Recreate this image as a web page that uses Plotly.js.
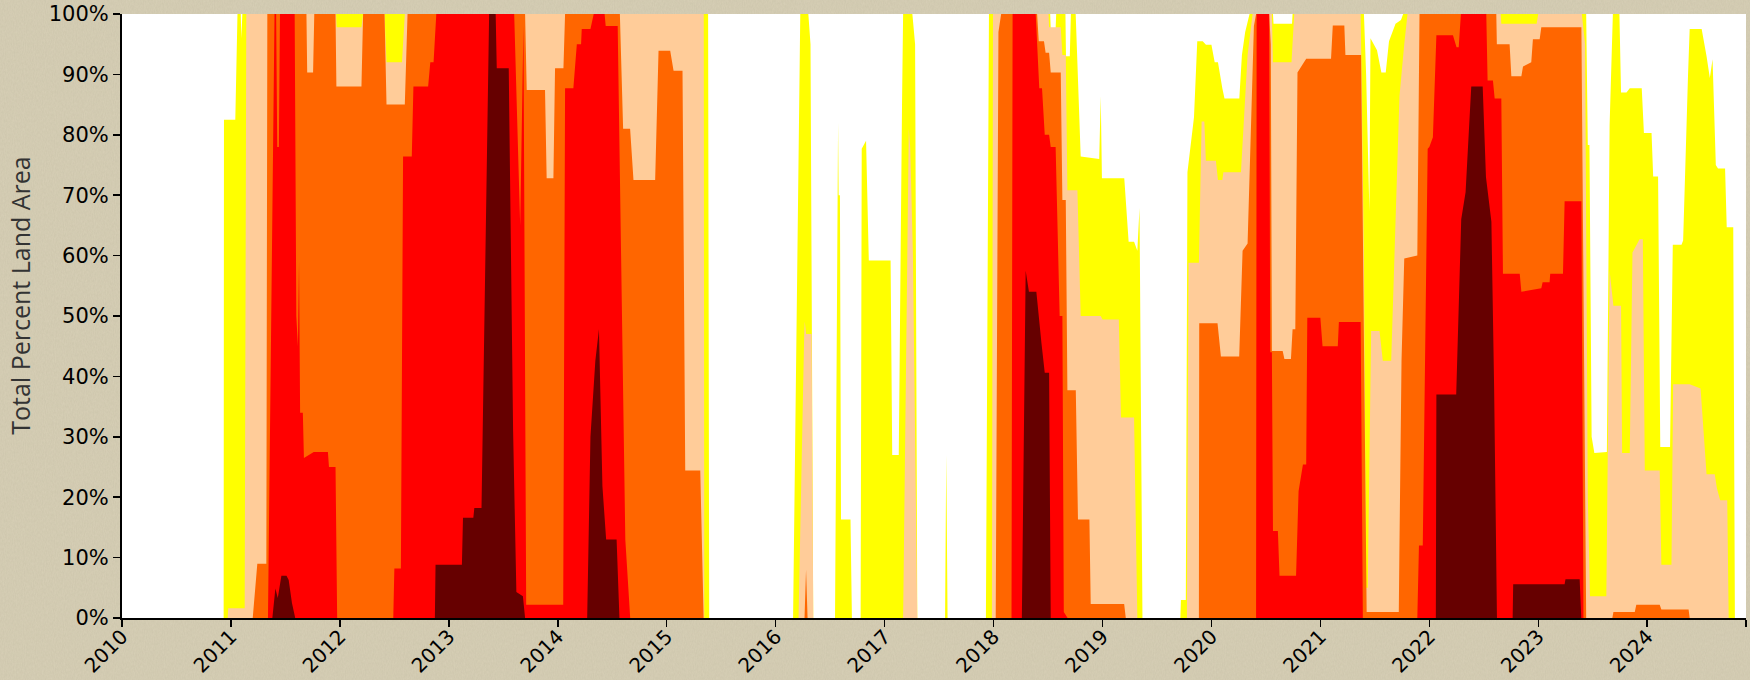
<!DOCTYPE html>
<html>
<head>
<meta charset="utf-8">
<script src="https://cdn.plot.ly/plotly-3.0.1.min.js"></script>
<style>
  html, body { margin: 0; padding: 0; }
  body {
    width: 1750px; height: 680px; overflow: hidden;
    background-color: #d7cfb6;
    background-image: url("data:image/svg+xml;utf8,<svg xmlns='http://www.w3.org/2000/svg' width='400' height='400'><filter id='n'><feTurbulence type='fractalNoise' baseFrequency='0.9 0.35' numOctaves='3' seed='4'/><feColorMatrix values='0 0 0 0 0.35  0 0 0 0 0.33  0 0 0 0 0.22  0 0 0 0.18 0'/></filter><rect width='100%' height='100%' filter='url(%23n)'/></svg>");
  }
  #chart { width: 1750px; height: 680px; }
</style>
</head>
<body>
<div id="chart"></div>
<script>
// Drought categories (cumulative percent of land area, "Dx or worse")
const categories = ['D0', 'D1', 'D2', 'D3', 'D4'];
const colors = ['#ffff00', '#ffcc99', '#ff6600', '#ff0000', '#660000'];

// [decimal year, percent]
const d0 = [
  [2010.933,0],[2010.936,82.5],[2011.04,82.5],[2011.06,100],[2011.09,100],[2011.095,96],[2011.105,100],[2011.165,100],[2011.172,95],[2011.18,100],[2015.38,100],[2015.39,0],
  [2016.16,0],[2016.226,100],[2016.30,100],[2016.32,95],[2016.345,0],
  [2016.545,0],[2016.573,82],[2016.578,70],[2016.59,70],[2016.60,16.3],[2016.687,16.3],[2016.70,0],
  [2016.78,0],[2016.79,77.7],[2016.83,79],[2016.855,59.2],[2017.055,59.2],[2017.07,27],[2017.13,27],[2017.16,85],[2017.17,100],[2017.255,100],[2017.28,95],[2017.30,0],
  [2017.555,0],[2017.566,27],[2017.578,0],
  [2017.93,0],[2017.958,100],[2018.52,100],[2018.525,97.5],[2018.57,97.5],[2018.575,100],[2018.66,100],[2018.665,93],[2018.70,93],[2018.71,100],[2018.754,100],[2018.80,76.4],[2018.97,76],[2018.984,86.4],[2018.995,72.8],[2019.20,72.8],[2019.24,62.3],[2019.29,62.3],[2019.32,60.8],[2019.34,67.9],[2019.367,0],
  [2019.715,0],[2019.72,3],[2019.765,3],[2019.78,73.8],[2019.84,82.9],[2019.87,95.5],[2019.92,95.5],[2019.95,94.9],[2020.0,94.9],[2020.03,92],[2020.06,92],[2020.10,87.7],[2020.12,86],[2020.256,86],[2020.28,93.2],[2020.31,97],[2020.35,100],[2020.565,100],[2020.57,98.4],[2020.74,98.4],[2020.745,100],[2021.40,100],[2021.42,90],[2021.45,67.3],[2021.46,96],[2021.52,94],[2021.56,90.3],[2021.60,90.3],[2021.63,95.5],[2021.69,98.4],[2021.74,99],[2021.76,100],
  [2023.44,100],[2023.455,78.3],[2023.47,78.3],[2023.49,30],[2023.515,27.3],[2023.63,27.5],[2023.655,81.5],[2023.685,100],[2023.745,100],[2023.76,87],[2023.81,87],[2023.84,87.7],[2023.95,87.7],[2023.97,80.3],[2024.04,80.3],[2024.055,73.1],[2024.10,73.1],[2024.12,28.3],[2024.21,28.3],[2024.235,61.8],[2024.315,61.8],[2024.33,62.5],[2024.375,90],[2024.39,97.5],[2024.50,97.5],[2024.545,93],[2024.575,89.4],[2024.60,92.5],[2024.63,75],[2024.65,74.4],[2024.715,74.4],[2024.73,64.7],[2024.79,64.7],[2024.805,0]
];

const d1 = [
  [2010.97,0],[2010.975,1.6],[2011.126,1.6],[2011.141,100],[2011.965,100],[2011.97,97.8],[2012.198,97.8],[2012.213,100],[2012.41,100],[2012.428,92],[2012.57,92],[2012.596,100],[2015.34,100],[2015.345,0],
  [2016.21,0],[2016.262,47],[2016.267,49.1],[2016.28,47],[2016.33,47],[2016.345,0],
  [2017.17,0],[2017.222,81],[2017.235,78],[2017.26,60],[2017.30,0],
  [2017.985,0],[2017.995,100],[2018.505,100],[2018.51,97.8],[2018.617,97.8],[2018.632,93.2],[2018.663,93.2],[2018.678,70.8],[2018.77,70.8],[2018.80,50],[2018.984,50],[2019.0,49.4],[2019.15,49.4],[2019.17,33.2],[2019.29,33.2],[2019.32,0],
  [2019.775,0],[2019.79,58.8],[2019.885,58.8],[2019.91,82.2],[2019.935,82.2],[2019.949,75.7],[2020.041,75.7],[2020.06,72.5],[2020.10,72.5],[2020.11,73.8],[2020.271,73.8],[2020.332,93.2],[2020.378,100],[2020.555,100],[2020.565,92],[2020.735,92],[2020.76,100],[2021.37,100],[2021.40,60],[2021.42,5],[2021.435,5],[2021.466,47.5],[2021.543,47.5],[2021.573,42.6],[2021.65,42.6],[2021.726,86.4],[2021.77,95],[2021.80,100],[2022.655,100],[2022.661,98.4],[2022.985,98.4],[2023.0,100],[2023.40,100],[2023.43,95],[2023.455,20],[2023.475,3.6],[2023.625,3.6],[2023.655,57.5],[2023.69,51.7],[2023.76,51.7],[2023.77,27.3],[2023.84,27.3],[2023.865,60.5],[2023.93,62.7],[2023.96,62.7],[2023.978,24.4],[2024.115,24.4],[2024.13,8.8],[2024.223,8.8],[2024.238,38.7],[2024.39,38.7],[2024.49,38],[2024.545,23.8],[2024.62,23.8],[2024.64,21.5],[2024.67,19.5],[2024.735,19.5],[2024.748,0]
];

const d2 = [
  [2011.20,0],[2011.242,9],[2011.325,9],[2011.334,100],[2011.693,100],[2011.70,90.3],[2011.754,90.3],[2011.765,100],[2011.96,100],[2011.968,88],[2012.198,88],[2012.213,100],[2012.41,100],[2012.428,85],[2012.596,85],[2012.621,100],[2013.70,100],[2013.715,87.4],[2013.883,87.4],[2013.898,72.8],[2013.96,72.8],[2013.975,91],[2014.052,91],[2014.067,100],[2014.57,100],[2014.60,81],[2014.664,81],[2014.695,72.5],[2014.894,72.5],[2014.925,93.9],[2015.032,93.9],[2015.063,90.6],[2015.145,90.6],[2015.17,24.4],[2015.308,24.4],[2015.339,0],
  [2016.265,0],[2016.279,8],[2016.293,0],
  [2018.02,0],[2018.045,97],[2018.07,100],[2018.40,100],[2018.415,95.5],[2018.463,95.5],[2018.478,93.6],[2018.51,93.6],[2018.525,90.3],[2018.617,90.3],[2018.632,69.2],[2018.663,69.2],[2018.678,37.7],[2018.755,37.7],[2018.775,16.3],[2018.88,16.3],[2018.892,2.3],[2019.199,2.3],[2019.214,0],
  [2019.885,0],[2019.888,48.8],[2020.056,48.8],[2020.087,43.3],[2020.255,43.3],[2020.286,60.8],[2020.332,62],[2020.39,98],[2020.41,100],[2020.53,100],[2020.545,95],[2020.555,44.2],[2020.654,44.2],[2020.67,42.9],[2020.73,42.9],[2020.745,47.8],[2020.77,47.8],[2020.79,90.3],[2020.87,92.6],[2021.098,92.6],[2021.114,98.1],[2021.22,98.1],[2021.23,93.2],[2021.374,93.2],[2021.425,1],[2021.72,1],[2021.726,12],[2021.745,42.6],[2021.77,59.5],[2021.89,60],[2021.91,100],[2022.615,100],[2022.62,95],[2022.737,95],[2022.753,89.7],[2022.845,89.7],[2022.86,91.3],[2022.936,92],[2022.951,95.8],[2023.013,95.8],[2023.028,97.8],[2023.396,97.8],[2023.44,0],
  [2023.68,0],[2023.69,1],[2023.886,1],[2023.90,2.2],[2024.115,2.2],[2024.13,1.4],[2024.38,1.4],[2024.39,0]
];

const d3 = [
  [2011.34,0],[2011.40,100],[2011.415,100],[2011.425,78],[2011.44,78],[2011.45,100],[2011.585,100],[2011.60,50],[2011.615,45],[2011.625,59],[2011.635,34],[2011.66,34],[2011.67,26.5],[2011.76,27.5],[2011.89,27.5],[2011.90,25],[2011.96,25],[2011.975,0],
  [2012.49,0],[2012.50,8.2],[2012.56,8.2],[2012.58,76.4],[2012.66,76.4],[2012.675,88],[2012.81,88],[2012.83,92],[2012.86,92],[2012.885,100],[2013.60,100],[2013.655,65],[2013.685,98],[2013.71,2.2],[2014.05,2.2],[2014.067,87.7],[2014.143,87.7],[2014.175,95],[2014.214,95],[2014.22,97.5],[2014.30,97.5],[2014.33,100],[2014.43,100],[2014.44,98],[2014.55,98],[2014.62,13],[2014.665,0],
  [2018.165,0],[2018.175,100],[2018.387,100],[2018.42,87.7],[2018.445,87.7],[2018.47,80],[2018.51,80],[2018.525,78],[2018.57,78],[2018.607,50],[2018.632,50],[2018.645,1],[2018.68,0],
  [2020.41,0],[2020.415,100],[2020.53,100],[2020.54,44],[2020.555,44],[2020.565,14.4],[2020.61,14.4],[2020.625,7],[2020.777,7],[2020.80,21],[2020.84,25.4],[2020.87,25.4],[2020.88,49.7],[2021.0,49.7],[2021.02,45],[2021.16,45],[2021.17,49],[2021.37,49],[2021.39,0],
  [2021.89,0],[2021.905,12],[2021.94,12],[2021.985,77.7],[2022.0,78],[2022.033,79.6],[2022.065,96.5],[2022.217,96.5],[2022.25,94.5],[2022.27,94.5],[2022.29,100],[2022.523,100],[2022.535,89],[2022.584,89],[2022.60,86],[2022.661,86],[2022.676,57],[2022.83,57],[2022.845,54],[2023.028,54.6],[2023.04,55.6],[2023.104,55.6],[2023.11,57],[2023.227,57],[2023.242,69],[2023.396,69],[2023.415,0]
];

const d4 = [
  [2011.38,0],[2011.408,4.9],[2011.43,3.3],[2011.463,7],[2011.51,7],[2011.53,6.3],[2011.56,2.5],[2011.59,0],
  [2012.872,0],[2012.878,8.8],[2013.12,8.8],[2013.13,16.6],[2013.225,16.6],[2013.234,18.2],[2013.30,18.2],[2013.37,100],[2013.43,100],[2013.44,91],[2013.55,91],[2013.59,31],[2013.62,4.3],[2013.68,3.6],[2013.70,0],
  [2014.27,0],[2014.30,30],[2014.345,42.6],[2014.378,47.8],[2014.41,21.8],[2014.444,13],[2014.54,13],[2014.566,0],
  [2018.26,0],[2018.295,57.5],[2018.325,54],[2018.393,54],[2018.44,45.5],[2018.47,40.6],[2018.51,40.6],[2018.525,0],
  [2022.06,0],[2022.065,37],[2022.247,37],[2022.293,66],[2022.333,70.5],[2022.385,88],[2022.49,88],[2022.52,73],[2022.57,65.6],[2022.595,38],[2022.621,0],
  [2022.765,0],[2022.77,5.6],[2023.242,5.6],[2023.25,6.4],[2023.38,6.4],[2023.395,0]
];

const yearTicks = [2010,2011,2012,2013,2014,2015,2016,2017,2018,2019,2020,2021,2022,2023,2024];
const yearLabels = ['2010','2011','2012','2013','2014','2015','2016','2017','2018','2019','2020','2021','2022','2023','2024'];
const xEnd = 2024.907;
const pctTicks = [0,10,20,30,40,50,60,70,80,90,100];
const pctLabels = ['0%','10%','20%','30%','40%','50%','60%','70%','80%','90%','100%'];
const yTitle = 'Total Percent Land Area';

const series = [d0, d1, d2, d3, d4];
const traces = series.map((s, i) => ({
  type: 'scatter',
  x: s.map(p => p[0]),
  y: s.map(p => p[1]),
  mode: 'none',
  fill: 'tozeroy',
  fillcolor: colors[i],
  name: categories[i],
  hoverinfo: 'skip',
  showlegend: false
}));

const layout = {
  width: 1750,
  height: 680,
  margin: { l: 122, r: 4, t: 14, b: 62, pad: 0 },
  paper_bgcolor: 'rgba(0,0,0,0)',
  plot_bgcolor: '#ffffff',
  showlegend: false,
  xaxis: {
    range: [2010, xEnd],
    tickmode: 'array',
    tickvals: yearTicks.concat([xEnd]),
    ticktext: yearLabels.concat(['']),
    tickangle: -45,
    ticks: 'outside', ticklen: 7, tickwidth: 1.5, tickcolor: '#000',
    ticklabelstandoff: -10,
    showline: true, linecolor: '#000', linewidth: 2,
    showgrid: false, zeroline: false,
    tickfont: { family: 'DejaVu Sans', size: 20, color: '#000' },
    automargin: false, fixedrange: true
  },
  yaxis: {
    range: [0, 100],
    tickmode: 'array',
    tickvals: pctTicks,
    ticktext: pctLabels,
    ticks: 'outside', ticklen: 7, tickwidth: 1.5, tickcolor: '#000',
    showline: true, linecolor: '#000', linewidth: 2,
    showgrid: false, zeroline: false,
    tickfont: { family: 'DejaVu Sans', size: 21, color: '#000' },
    automargin: false, fixedrange: true
  },
  annotations: [{
    text: yTitle,
    xref: 'paper', yref: 'paper',
    x: -0.063, y: 0.533,
    xanchor: 'center', yanchor: 'middle',
    textangle: -90,
    showarrow: false,
    font: { family: 'Open Sans', size: 25, color: '#333' }
  }]
};

Plotly.newPlot('chart', traces, layout, { displayModeBar: false, staticPlot: true });
</script>
</body>
</html>
